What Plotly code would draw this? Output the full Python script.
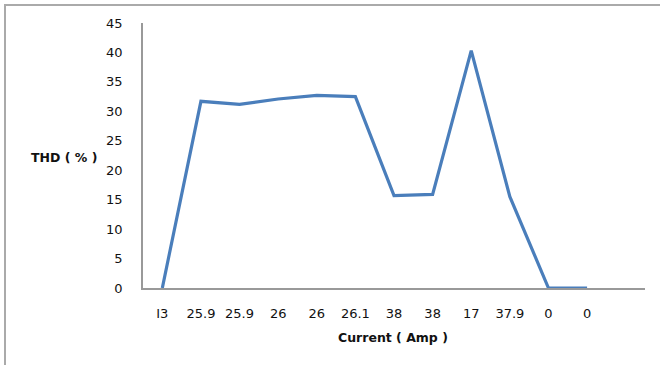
import plotly.graph_objects as go

categories = ["I3", "25.9", "25.9", "26", "26", "26.1", "38", "38", "17", "37.9", "0", "0"]
thd_values = [0, 31.7, 31.2, 32.1, 32.7, 32.5, 15.7, 15.9, 40.3, 15.5, 0, 0]
y_ticks = [0, 5, 10, 15, 20, 25, 30, 35, 40, 45]

W, H = 660, 365
L, R, T, B = 143, 15, 23, 77
pw, ph = W - L - R, H - T - B

def px(x):
    return (x - L) / pw

def py(y):
    return (H - B - y) / ph

xs = list(range(len(categories)))

fig = go.Figure()
fig.add_trace(go.Scatter(
    x=xs, y=thd_values, mode="lines",
    line=dict(color="#4a7ebb", width=3.2),
    hoverinfo="skip", showlegend=False,
))

tick_font = dict(family="DejaVu Sans", size=13, color="#111111")
title_font = dict(family="DejaVu Sans", size=12.5, color="#111111", weight="bold")

fig.update_layout(
    width=W, height=H,
    margin=dict(l=L, r=R, t=T, b=B),
    paper_bgcolor="white", plot_bgcolor="white",
    xaxis=dict(
        range=[-0.5, 12.5], tickmode="array", tickvals=xs, ticktext=categories,
        showgrid=False, zeroline=False, showline=True, linecolor="#999999", linewidth=1.5,
        ticks="", tickfont=tick_font, ticklabelstandoff=13,
    ),
    yaxis=dict(
        range=[0, 45], tickmode="array", tickvals=y_ticks,
        showgrid=False, zeroline=False, showline=True, linecolor="#999999", linewidth=1.5,
        ticks="", tickfont=tick_font, ticklabelstandoff=16,
    ),
    annotations=[
        dict(text="THD ( % )", x=px(64), y=py(157), xref="paper", yref="paper",
             xanchor="center", yanchor="middle", showarrow=False, font=title_font),
        dict(text="Current ( Amp )", x=px(393), y=py(337), xref="paper", yref="paper",
             xanchor="center", yanchor="middle", showarrow=False, font=title_font),
    ],
    shapes=[
        dict(type="rect", xref="paper", yref="paper",
             x0=px(5), x1=px(680), y0=py(380), y1=py(5),
             line=dict(color="#aaaaaa", width=2), fillcolor="rgba(0,0,0,0)", layer="below"),
    ],
)

fig.write_html("out.html", config={"displayModeBar": False})

with open("out.html", "r", encoding="utf-8") as f:
    html = f.read()
html = html.replace("<body>", '<body style="margin:0;padding:0;overflow:hidden">', 1)
with open("out.html", "w", encoding="utf-8") as f:
    f.write(html)
